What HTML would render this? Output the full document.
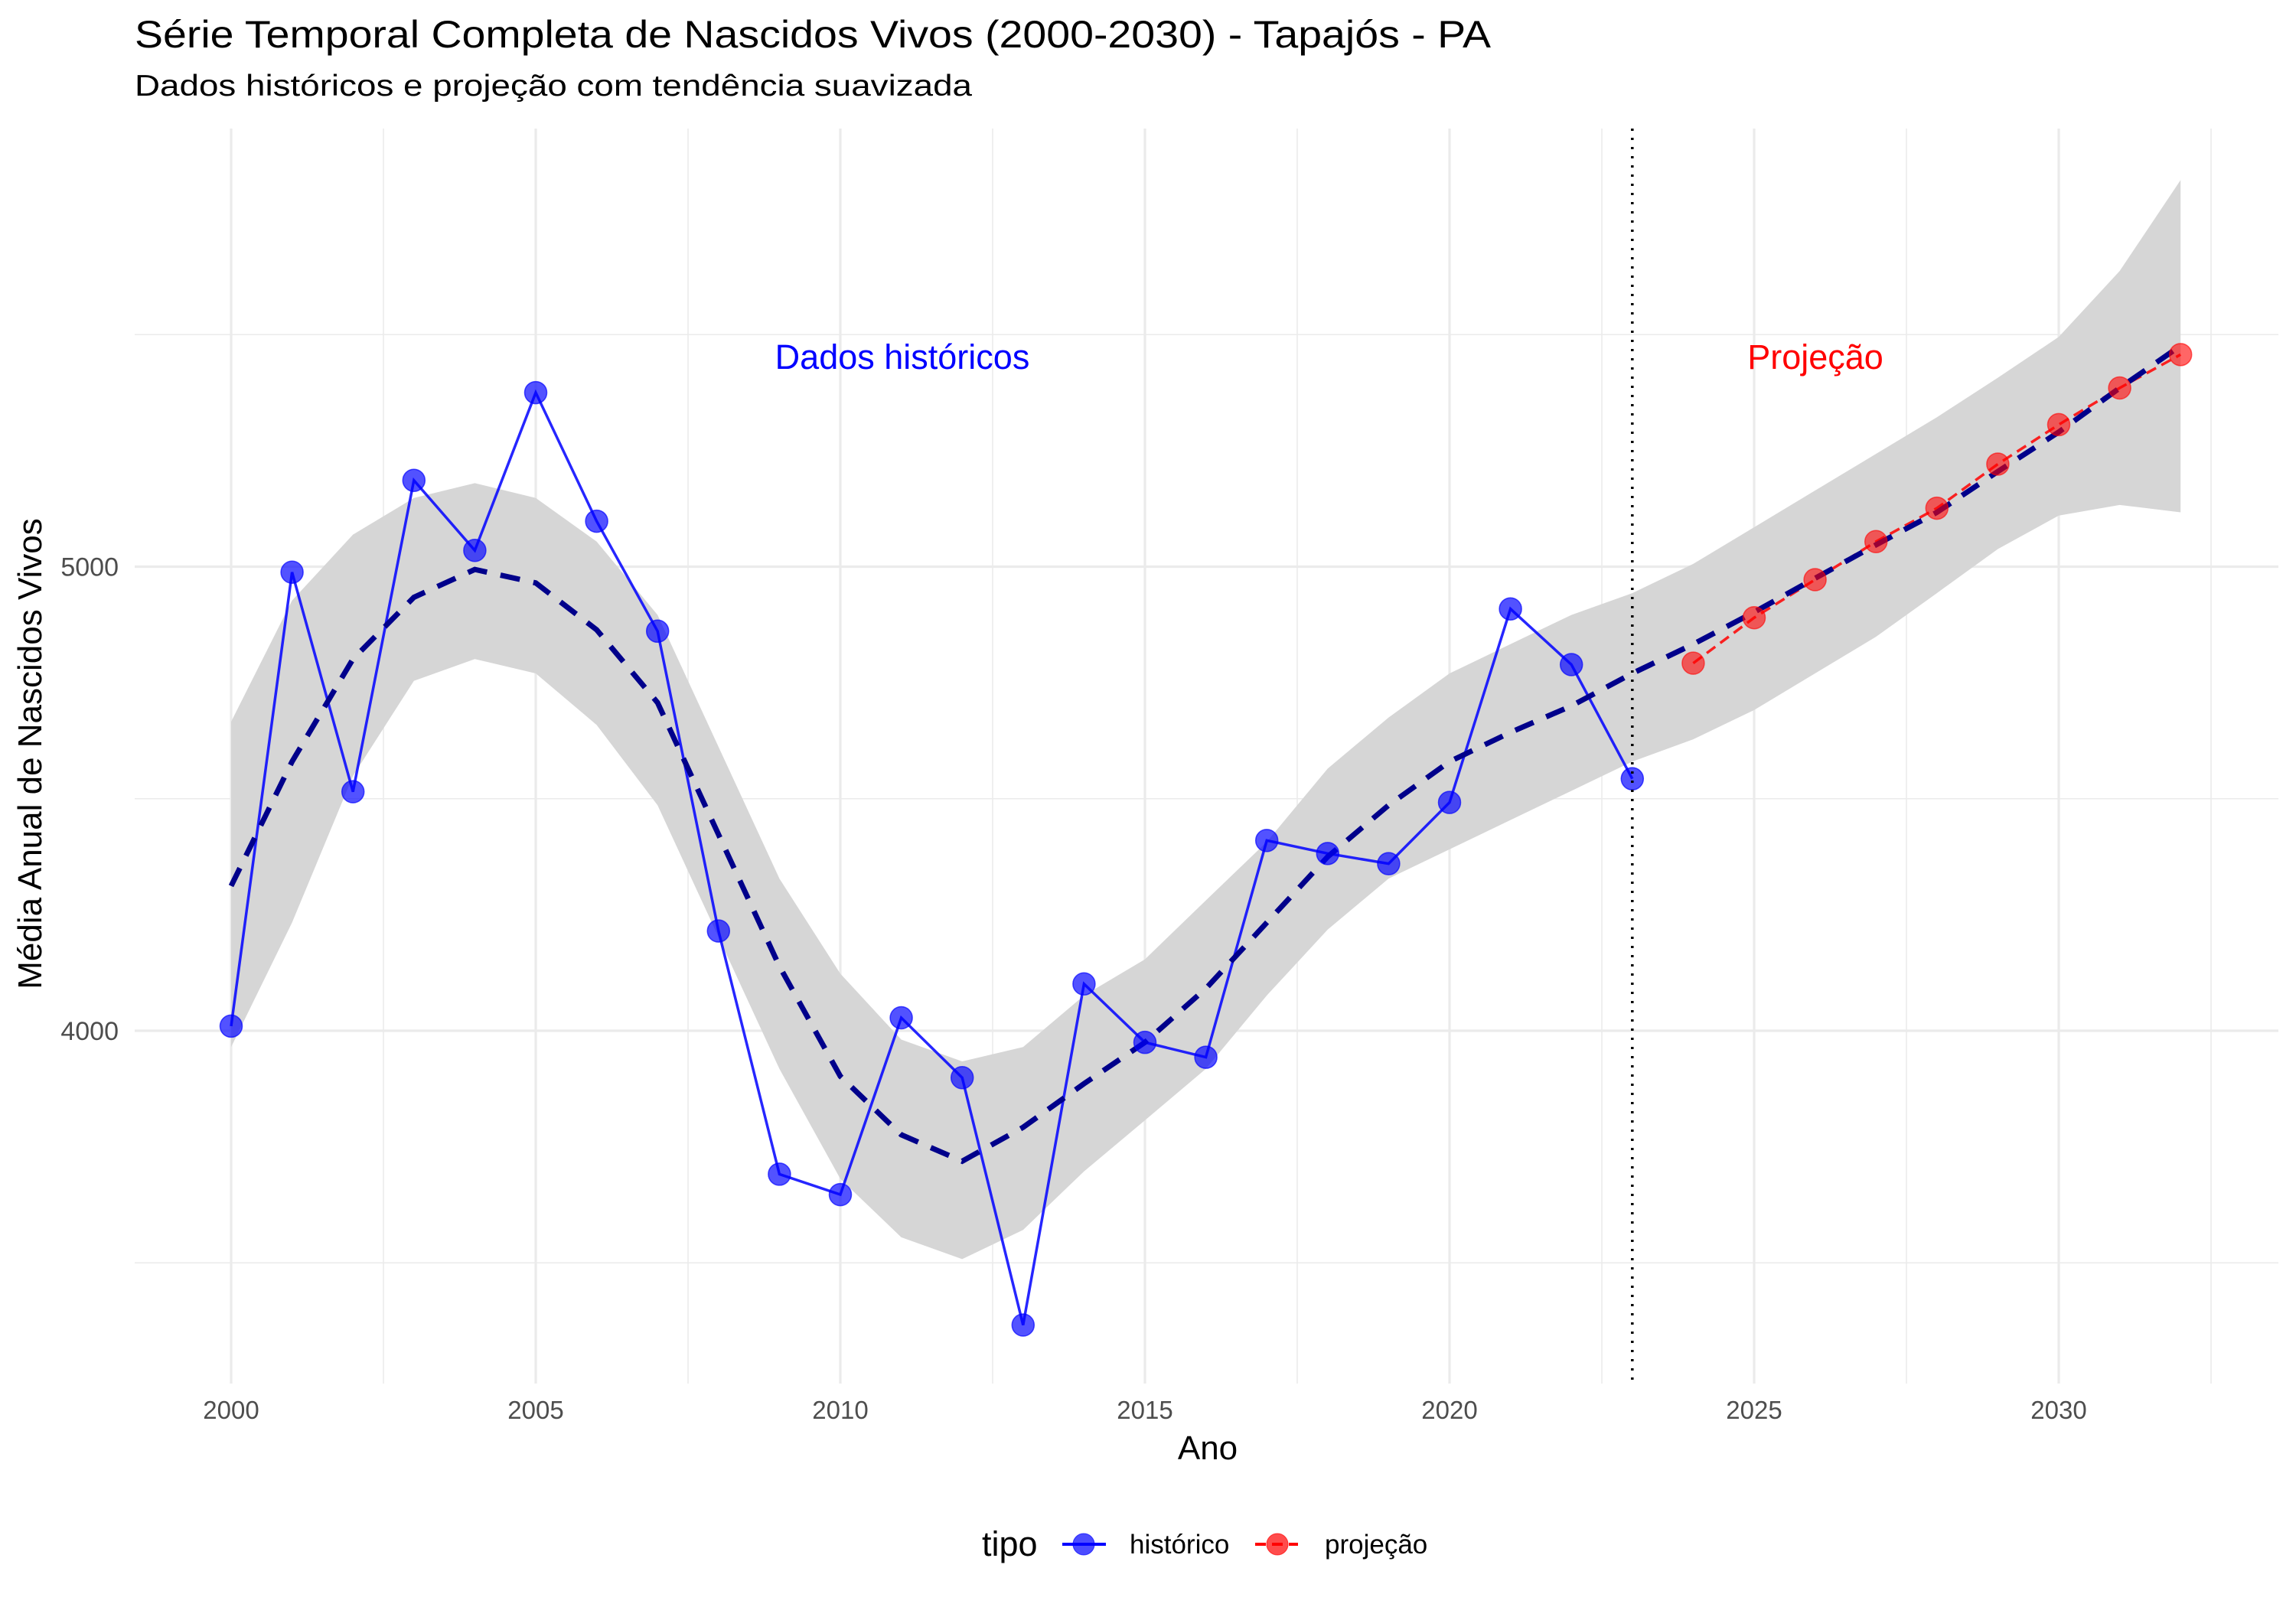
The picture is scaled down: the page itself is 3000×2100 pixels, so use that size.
<!DOCTYPE html>
<html><head><meta charset="utf-8">
<style>
body{margin:0;background:#fff;}
svg{display:block;font-family:"Liberation Sans",Arial,sans-serif;}
</style></head>
<body>
<svg id="chart" width="3000" height="2100" viewBox="0 0 3000 2100" xmlns="http://www.w3.org/2000/svg">
<rect width="3000" height="2100" fill="#fff"/>
<text x="176" y="62" font-size="50" fill="#000" textLength="1772" lengthAdjust="spacingAndGlyphs">Série Temporal Completa de Nascidos Vivos (2000-2030) -  Tapajós - PA</text>
<text x="176" y="125" font-size="39" fill="#000" textLength="1094" lengthAdjust="spacingAndGlyphs">Dados históricos e projeção com tendência suavizada</text>
<g id="grid"></g>
<g id="marks"></g>
<g id="axes"></g>
<text x="1578" y="1907" font-size="44" text-anchor="middle" fill="#000">Ano</text>
<text transform="translate(54,985) rotate(-90)" font-size="44" text-anchor="middle" fill="#000">Média Anual de Nascidos Vivos</text>
<g>
<text x="1283" y="2033" font-size="45" fill="#000">tipo</text>
<g>
<line x1="1388" y1="2018" x2="1445" y2="2018" stroke="#0000ff" stroke-width="4"/>
<circle cx="1416" cy="2018" r="14" fill="#0000ff" fill-opacity="0.7" stroke="#0000ff" stroke-opacity="0.7"/>
<text x="1476" y="2030" font-size="35" fill="#000">histórico</text>
</g>
<g>
<line x1="1640" y1="2018" x2="1696" y2="2018" stroke="#ff0000" stroke-width="4" stroke-dasharray="14,8"/>
<circle cx="1669" cy="2018" r="14" fill="#ff0000" fill-opacity="0.7" stroke="#ff0000" stroke-opacity="0.7"/>
<text x="1731" y="2030" font-size="35" fill="#000">projeção</text>
</g>
</g>
</svg>
<script>
const histYears=[2000,2001,2002,2003,2004,2005,2006,2007,2008,2009,2010,2011,2012,2013,2014,2015,2016,2017,2018,2019,2020,2021,2022,2023];
const histValues=[4010,4988,4515,5186,5035,5375,5098,4861,4215,3691,3647,4028,3899,3366,4101,3975,3943,4410,4382,4360,4492,4909,4789,4543];
const projYears=[2024,2025,2026,2027,2028,2029,2030,2031,2032];
const projValues=[4792,4890,4972,5054,5126,5221,5306,5385,5457];
const smoothYears=[2000,2001,2002,2003,2004,2005,2006,2007,2008,2009,2010,2011,2012,2013,2014,2015,2016,2017,2018,2019,2020,2021,2022,2023,2024,2025,2026,2027,2028,2029,2030,2031,2032];
const smoothValues=[4312,4580,4801,4934,4994,4965,4864,4707,4423,4139,3902,3776,3719,3792,3886,3975,4091,4233,4375,4486,4580,4643,4700,4770,4833,4902,4975,5047,5117,5205,5290,5385,5476];
const bandUpper=[4666,4927,5069,5148,5180,5148,5054,4896,4612,4328,4123,3981,3934,3965,4076,4154,4281,4407,4565,4675,4770,4833,4896,4943,5006,5085,5164,5243,5322,5407,5495,5637,5833];
const bandLower=[3965,4233,4549,4754,4801,4770,4659,4486,4202,3918,3681,3555,3508,3571,3697,3807,3918,4076,4218,4328,4391,4454,4517,4580,4628,4691,4770,4849,4943,5038,5110,5133,5117];
const xTicks=[2000,2005,2010,2015,2020,2025,2030];
const xMinor=[2002.5,2007.5,2012.5,2017.5,2022.5,2027.5,2032.5];
const yTicks=[4000,5000];
const yMinor=[3500,4500,5500];
const cutYear=2023;

const NS='http://www.w3.org/2000/svg';
const PL=176,PR=2977,PT=168,PB=1808;
function xS(yr){return 302+(yr-2000)*79.6;}
function yS(v){return 740.5-(v-5000)*0.6065;}
function mk(tag,attrs,parent){const e=document.createElementNS(NS,tag);for(const k in attrs)e.setAttribute(k,attrs[k]);parent.appendChild(e);return e;}
const grid=document.getElementById('grid'),marks=document.getElementById('marks'),axes=document.getElementById('axes');

yMinor.forEach(v=>{const l=mk('line',{x1:PL,x2:PR,y1:yS(v),y2:yS(v),stroke:'#ebebeb','stroke-width':1.6},grid);

});
xMinor.forEach(v=>{const l=mk('line',{x1:xS(v),x2:xS(v),y1:PT,y2:PB,stroke:'#ebebeb','stroke-width':1.6},grid);

});
yTicks.forEach(v=>{const l=mk('line',{x1:PL,x2:PR,y1:yS(v),y2:yS(v),stroke:'#ebebeb','stroke-width':3.2},grid);


const t=mk('text',{x:155,y:yS(v)+12,'font-size':34,'text-anchor':'end',fill:'#4d4d4d'},axes);t.textContent=v;

});
xTicks.forEach(v=>{const l=mk('line',{x1:xS(v),x2:xS(v),y1:PT,y2:PB,stroke:'#ebebeb','stroke-width':3.2},grid);


const t=mk('text',{x:xS(v),y:1854,'font-size':33,'text-anchor':'middle',fill:'#4d4d4d'},axes);t.textContent=v;

});

let d='';smoothYears.forEach((yr,i)=>{d+=(i?'L':'M')+xS(yr)+','+yS(bandUpper[i]);});
for(let i=smoothYears.length-1;i>=0;i--)d+='L'+xS(smoothYears[i])+','+yS(bandLower[i]);
const band=mk('path',{d:d+'Z',fill:'#d6d6d6'},marks);



const hl=mk('polyline',{points:histYears.map((y,i)=>xS(y)+','+yS(histValues[i])).join(' '),fill:'none',stroke:'#0000ff','stroke-width':3.5,'stroke-opacity':0.85},marks);


const pl=mk('polyline',{points:projYears.map((y,i)=>xS(y)+','+yS(projValues[i])).join(' '),fill:'none',stroke:'#ff0000','stroke-width':3.5,'stroke-dasharray':'14,8','stroke-opacity':0.85},marks);



const sl=mk('polyline',{points:smoothYears.map((y,i)=>xS(y)+','+yS(smoothValues[i])).join(' '),fill:'none',stroke:'#00008b','stroke-width':7,'stroke-dasharray':'26,18'},marks);



histYears.forEach((y,i)=>{const c=mk('circle',{cx:xS(y),cy:yS(histValues[i]),r:14.5,fill:'#0000ff','fill-opacity':0.68,stroke:'#0000ff','stroke-opacity':0.68,'stroke-width':1.5},marks);

});
projYears.forEach((y,i)=>{const c=mk('circle',{cx:xS(y),cy:yS(projValues[i]),r:14.5,fill:'#ff0000','fill-opacity':0.6,stroke:'#ff0000','stroke-opacity':0.6,'stroke-width':1.5},marks);

});

const vl=mk('line',{x1:xS(cutYear),x2:xS(cutYear),y1:PT,y2:PB,stroke:'#000','stroke-width':3.5,'stroke-dasharray':'3,9'},marks);



const a1=mk('text',{x:1179,y:482,'font-size':45,'text-anchor':'middle',fill:'#0000ff'},marks);a1.textContent='Dados históricos';


const a2=mk('text',{x:2372,y:482,'font-size':45,'text-anchor':'middle',fill:'#ff0000'},marks);a2.textContent='Projeção';


</script>
</body></html>
